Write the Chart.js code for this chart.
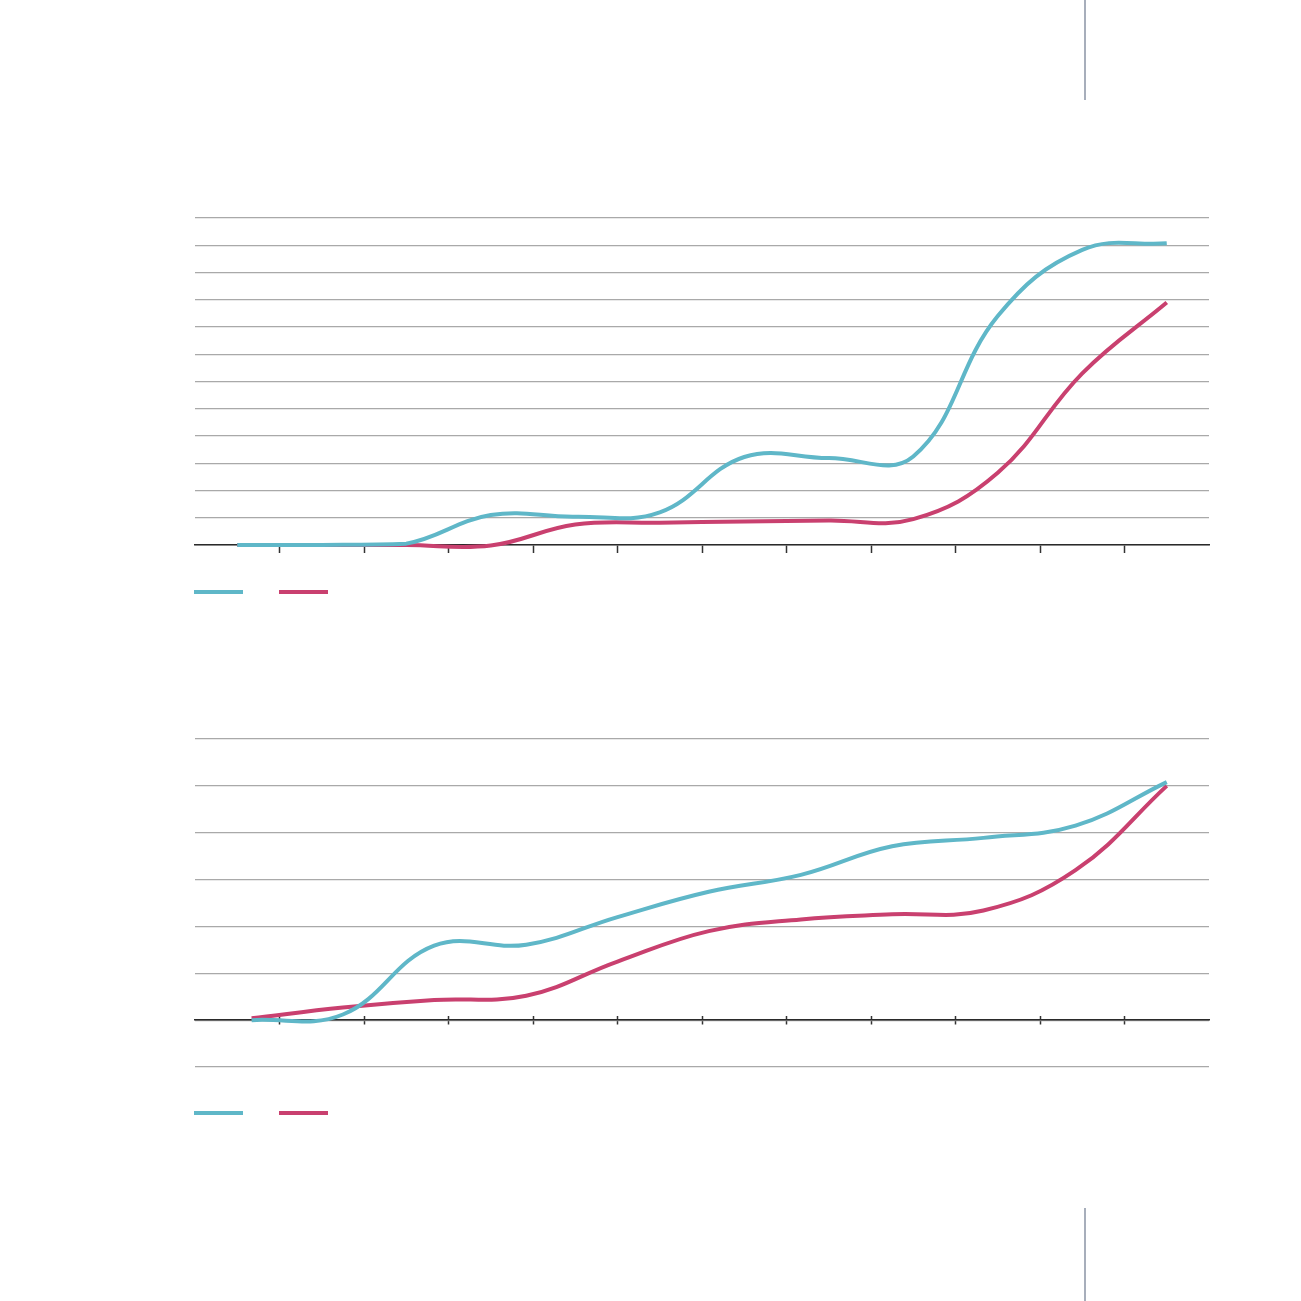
<!DOCTYPE html>
<html>
<head>
<meta charset="utf-8">
<script src="https://cdn.jsdelivr.net/npm/chart.js@4.4.1/dist/chart.umd.min.js"></script>
<style>
  html, body { margin:0; padding:0; background:#fff; }
  body { width:1301px; height:1301px; position:relative; overflow:hidden; font-family:"Open Sans", sans-serif; }
  canvas { position:absolute; left:0; }
  #chartTop { top:0; }
  #chartBottom { top:650px; }
  .rule { position:absolute; left:1084px; width:2px; background:#a7aebb; }
</style>
</head>
<body>
<div class="rule" style="top:0; height:100px;"></div>
<div class="rule" style="top:1208px; height:93px;"></div>
<canvas id="chartTop" width="1301" height="650"></canvas>
<canvas id="chartBottom" width="1301" height="651"></canvas>
<script>
// positions along the x axis (0..11 = the twelve periods)
const topX = [0, 1, 2, 3, 4, 5, 6, 7, 8, 9, 10, 11];
const topCyan = [0, 0, 0.05, 1.1, 1.04, 1.2, 3.23, 3.19, 3.25, 8.4, 10.83, 11.07];
const topRed  = [0, 0, 0, -0.02, 0.75, 0.82, 0.86, 0.9, 0.95, 2.65, 6.3, 8.9];

const bottomX = [0.17, 1.25, 2.33, 3.42, 4.5, 5.58, 6.67, 7.75, 8.83, 9.92, 11];
const bottomCyan = [0, 0.12, 1.59, 1.61, 2.2, 2.74, 3.1, 3.71, 3.89, 4.15, 5.08];
const bottomRed  = [0.04, 0.27, 0.43, 0.52, 1.25, 1.9, 2.15, 2.26, 2.34, 3.2, 5.0];

// tick marks sit between periods
const xTickValues = [0.5, 1.5, 2.5, 3.5, 4.5, 5.5, 6.5, 7.5, 8.5, 9.5, 10.5];

const CYAN = '#5fb7c8';
const RED = '#c9406f';
const GRID = '#a9a9a9';
const AXIS = '#2a2a2a';

function pts(xs, ys){ return xs.map((x,i)=>({ x, y: ys[i] })); }

function line(label, xs, ys, color){
  return { label, data: pts(xs, ys), borderColor: color, backgroundColor: color,
    borderWidth: 4, pointRadius: 0, tension: 0.4, fill: false, borderCapStyle: 'butt', clip: 6 };
}

function setTicks(s){ s.ticks = xTickValues.map(v=>({ value: v })); }

const legendOpts = {
  position: 'bottom', align: 'start',
  labels: {
    boxWidth: 49, boxHeight: 4, padding: 30, font: { size: 12 },
    generateLabels: (chart)=> chart.data.datasets.map((d,i)=>({
      text: '', fillStyle: d.borderColor, strokeStyle: d.borderColor, lineWidth: 0,
      hidden: false, datasetIndex: i
    }))
  }
};

const yBase = (min, max) => ({
  min, max,
  ticks: { display: false, stepSize: 1 },
  grid: { color: GRID, lineWidth: 1.2, drawTicks: false },
  border: { display: false },
  afterFit: s => { s.width = 31; }
});

new Chart(document.getElementById('chartTop'), {
  type: 'line',
  data: { datasets: [ line('A', topX, topCyan, CYAN), line('B', topX, topRed, RED) ] },
  options: {
    responsive: false, animation: false,
    layout: { padding: { top: 218, left: 164, right: 92, bottom: 42 } },
    plugins: { legend: legendOpts, tooltip: { enabled: false } },
    scales: {
      x: {
        type: 'linear', min: -0.5, max: 11.5,
        afterBuildTicks: setTicks,
        ticks: { display: false, autoSkip: false },
        grid: { drawOnChartArea: false, drawTicks: true, tickLength: 8, tickColor: '#333', tickWidth: 1.5 },
        border: { display: true, color: AXIS, width: 1.5 },
        afterFit: s => { s.height = 11; }
      },
      y: yBase(0, 12)
    }
  }
});

new Chart(document.getElementById('chartBottom'), {
  type: 'line',
  data: { datasets: [ line('A', bottomX, bottomCyan, CYAN), line('B', bottomX, bottomRed, RED) ] },
  options: {
    responsive: false, animation: false,
    layout: { padding: { top: 89, left: 164, right: 92, bottom: 172 } },
    plugins: { legend: legendOpts, tooltip: { enabled: false } },
    scales: {
      x: {
        type: 'linear', min: -0.5, max: 11.5,
        ticks: { display: false },
        grid: { display: false },
        border: { display: false },
        afterFit: s => { s.height = 10; }
      },
      xDown: {
        type: 'linear', axis: 'x', position: { y: 0 }, min: -0.5, max: 11.5,
        afterBuildTicks: setTicks,
        ticks: { display: false, autoSkip: false },
        grid: { drawOnChartArea: false, drawTicks: true, tickLength: 4, tickColor: '#333', tickWidth: 1.5 },
        border: { display: true, color: AXIS, width: 1.5 }
      },
      xUp: {
        type: 'linear', axis: 'x', position: { y: 0 }, min: -0.5, max: 11.5,
        afterBuildTicks: setTicks,
        ticks: { display: false, autoSkip: false },
        grid: { drawOnChartArea: false, drawTicks: true, tickLength: -4, tickColor: '#333', tickWidth: 1.5 },
        border: { display: false }
      },
      y: yBase(-1, 6)
    }
  }
});
</script>
</body>
</html>
